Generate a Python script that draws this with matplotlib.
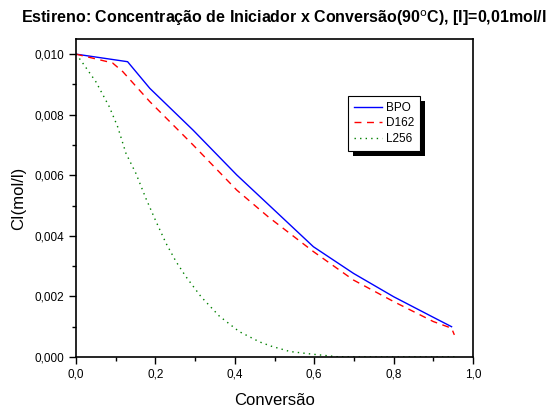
import numpy as np
import matplotlib
matplotlib.use("Agg")
import matplotlib.pyplot as plt
from matplotlib.patches import Rectangle
from matplotlib.transforms import IdentityTransform
from matplotlib.ticker import MultipleLocator, FuncFormatter

plt.rcParams['font.family'] = ['Liberation Sans', 'DejaVu Sans']

# valores
bpo_x = [0.0, 0.13, 0.186, 0.295, 0.405, 0.489, 0.598, 0.699, 0.80, 0.90, 0.946]
bpo_y = [0.0100, 0.00975, 0.00887, 0.00749, 0.00601, 0.00498, 0.00364, 0.00276, 0.00199, 0.00131, 0.00100]

d162_x = [0.0, 0.092, 0.118, 0.186, 0.295, 0.405, 0.484, 0.598, 0.699, 0.80, 0.90, 0.946, 0.953]
d162_y = [0.0100, 0.00971, 0.00942, 0.00843, 0.00700, 0.00551, 0.00463, 0.00348, 0.00254, 0.00183, 0.00117, 0.00095, 0.00073]

l256_x = [0.0, 0.013, 0.05, 0.084, 0.105, 0.126, 0.151, 0.176, 0.2, 0.227, 0.252, 0.277, 0.315,
          0.361, 0.411, 0.462, 0.491, 0.539, 0.597, 0.657, 0.70, 0.80, 0.96]
l256_y = [0.0100, 0.00978, 0.00909, 0.00826, 0.00760, 0.00672, 0.00606, 0.00524, 0.00452, 0.00375,
          0.00315, 0.00265, 0.00199, 0.00135, 0.00084, 0.00050, 0.00036, 0.00018, 0.00009, 0.00001,
          0.0, 0.0, 0.0]

fig = plt.figure(figsize=(5.49, 4.07), dpi=100)
ax = fig.add_axes([0.1384, 0.1229, 0.7232, 0.7813])

ax.plot(bpo_x, bpo_y, color='#0000ff', lw=1.0, label='BPO')
ax.plot(d162_x, d162_y, color='#ff0000', lw=1.0, ls=(0, (5, 4)), label='D162')
ax.plot(l256_x, l256_y, color='#008000', lw=1.0, ls=(0, (1, 3)), label='L256')

ax.set_xlim(0, 1.0)
ax.set_ylim(0, 0.0105)
ax.xaxis.set_major_locator(MultipleLocator(0.2))
ax.xaxis.set_minor_locator(MultipleLocator(0.1))
ax.yaxis.set_major_locator(MultipleLocator(0.002))
ax.yaxis.set_minor_locator(MultipleLocator(0.001))
ax.xaxis.set_major_formatter(FuncFormatter(lambda v, p: f"{v:.1f}".replace('.', ',')))
ax.yaxis.set_major_formatter(FuncFormatter(lambda v, p: f"{v:.3f}".replace('.', ',')))
ax.tick_params(which='both', direction='out', top=False, right=False, labelsize=8.5, width=1)
ax.tick_params(which='major', length=5)
ax.tick_params(which='minor', length=3)
for s in ax.spines.values():
    s.set_linewidth(1.2)

ax.set_xlabel('Conversão', fontsize=12, labelpad=9)
ax.set_ylabel('CI(mol/l)', fontsize=12, labelpad=6)
fig.text(0.516, 0.956, 'Estireno: Concentração de Iniciador x Conversão(90$^\\mathrm{o}$C), [I]=0,01mol/l',
         fontsize=11.5, fontweight='bold', ha='center', va='center')

leg = ax.legend(loc='upper left', bbox_to_anchor=(0.685, 0.821), borderaxespad=0,
                fontsize=8.5, fancybox=False, edgecolor='black', framealpha=1,
                handlelength=2.4, borderpad=0.5, labelspacing=0.3, handletextpad=0.3)
leg.get_frame().set_linewidth(0.8)

fig.canvas.draw()
bb = leg.get_window_extent()
ax.add_patch(Rectangle((bb.x0 + 5, bb.y0 - 5), bb.width, bb.height, transform=IdentityTransform(),
                       facecolor='black', edgecolor='none', zorder=4.9, clip_on=False))

fig.savefig('out.png', dpi=100)
